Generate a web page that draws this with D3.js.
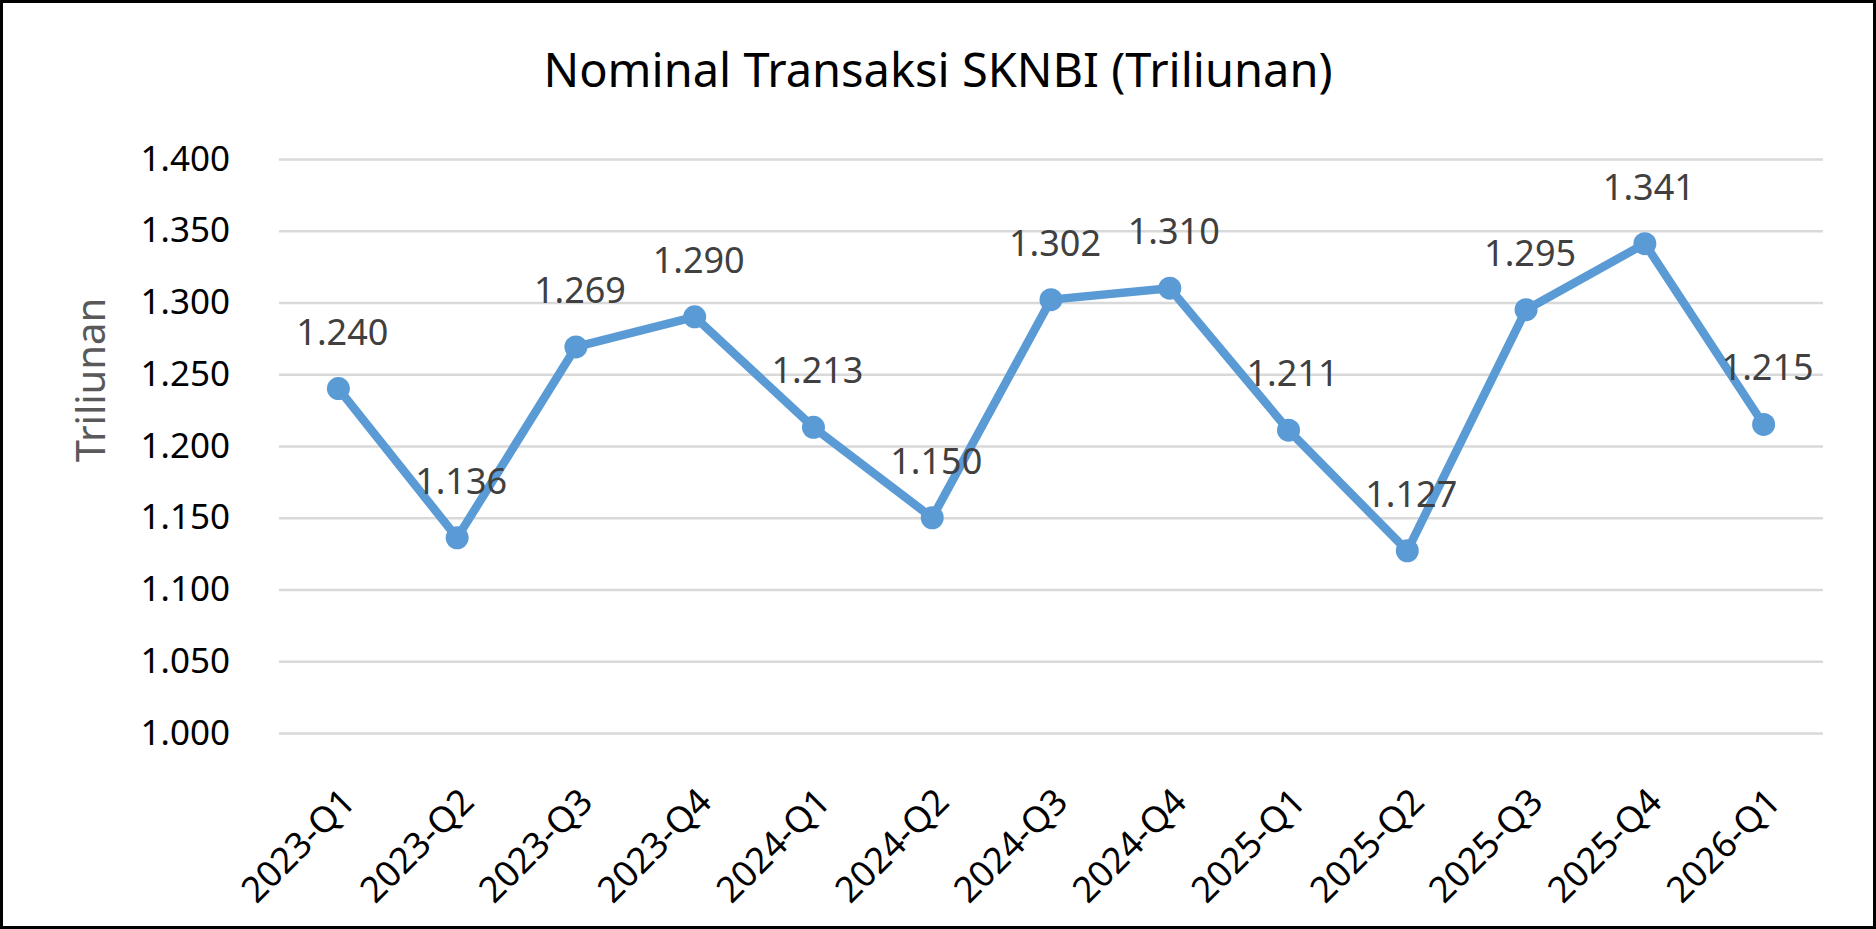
<!DOCTYPE html>
<html lang="id">
<head>
<meta charset="UTF-8">
<title>Nominal Transaksi SKNBI</title>
<script src="https://d3js.org/d3.v7.min.js"></script>
<style>
    body { margin: 0; background: #fff; }
    svg { display: block; font-family: "Noto Sans", sans-serif; }
    .grid line { stroke: #d9d9d9; stroke-width: 2.5; }
    .axis text { font-size: 35px; fill: #000; }
    .xaxis text { font-size: 36px; }
</style>
</head>
<body>
<script>
// data
const quarters = ["2023-Q1", "2023-Q2", "2023-Q3", "2023-Q4", "2024-Q1", "2024-Q2", "2024-Q3",
                  "2024-Q4", "2025-Q1", "2025-Q2", "2025-Q3", "2025-Q4", "2026-Q1"];
const nominal = [1240, 1136, 1269, 1290, 1213, 1150, 1302, 1310, 1211, 1127, 1295, 1341, 1215];
const yTicks = [1000, 1050, 1100, 1150, 1200, 1250, 1300, 1350, 1400];

const W = 1876, H = 929;
const plot = {left: 279, right: 1823, top: 159, bottom: 733};

// Indonesian number format: dot as thousands separator
const idFmt = d3.formatLocale({decimal: ",", thousands: ".", grouping: [3], currency: ["Rp", ""]}).format(",d");

const svg = d3.select("body").append("svg")
    .attr("width", W)
    .attr("height", H);

svg.append("rect")
    .attr("x", 1.5).attr("y", 1.5)
    .attr("width", W - 3).attr("height", H - 3)
    .attr("fill", "#fff")
    .attr("stroke", "#000")
    .attr("stroke-width", 3);

const x = d3.scaleBand().domain(quarters).range([plot.left, plot.right]).padding(0);
const y = d3.scaleLinear().domain([1000, 1400]).range([plot.bottom, plot.top]);

// gridlines
svg.append("g")
    .attr("class", "grid")
    .attr("transform", `translate(${plot.left},0)`)
    .call(d3.axisLeft(y).tickValues(yTicks).tickSize(-(plot.right - plot.left)).tickFormat(""))
    .call(g => g.select(".domain").remove());

// y axis labels
svg.append("g")
    .attr("class", "axis")
    .attr("transform", `translate(${plot.left},0)`)
    .call(d3.axisLeft(y).tickValues(yTicks).tickSize(0).tickPadding(49).tickFormat(idFmt))
    .attr("font-family", null)
    .attr("font-size", null)
    .call(g => g.select(".domain").remove());

// x axis labels, rotated
svg.append("g")
    .attr("class", "axis xaxis")
    .attr("transform", `translate(0,${plot.bottom})`)
    .call(d3.axisBottom(x).tickSize(0))
    .attr("font-family", null)
    .attr("font-size", null)
    .call(g => g.select(".domain").remove())
    .call(g => g.selectAll("text")
        .attr("text-anchor", "end")
        .attr("dy", "0.35em")
        .attr("y", 0)
        .attr("transform", "translate(10,62) rotate(-45)"));

// line
const line = d3.line()
    .x((d, i) => x(quarters[i]) + x.bandwidth() / 2)
    .y(d => y(d));

svg.append("path")
    .datum(nominal)
    .attr("fill", "none")
    .attr("stroke", "#5b9bd5")
    .attr("stroke-width", 8.5)
    .attr("stroke-linejoin", "round")
    .attr("d", line);

svg.selectAll(".dot")
    .data(nominal)
    .enter()
    .append("circle")
    .attr("class", "dot")
    .attr("cx", (d, i) => x(quarters[i]) + x.bandwidth() / 2)
    .attr("cy", d => y(d))
    .attr("r", 11.5)
    .attr("fill", "#5b9bd5");

// data labels
svg.selectAll(".lbl")
    .data(nominal)
    .enter()
    .append("text")
    .attr("class", "lbl")
    .attr("x", (d, i) => x(quarters[i]) + x.bandwidth() / 2 + 4)
    .attr("y", d => y(d) - 44)
    .attr("text-anchor", "middle")
    .attr("font-size", 36)
    .attr("fill", "#404040")
    .text(d => idFmt(d));

// axis title
svg.append("text")
    .attr("transform", "translate(89,380) rotate(-90)")
    .attr("text-anchor", "middle")
    .attr("dominant-baseline", "central")
    .attr("font-size", 40)
    .attr("fill", "#595959")
    .text("Triliunan");

// chart title
svg.append("text")
    .attr("x", W / 2)
    .attr("y", 87)
    .attr("text-anchor", "middle")
    .attr("font-size", 47)
    .attr("fill", "#000")
    .text("Nominal Transaksi SKNBI (Triliunan)");
</script>
</body>
</html>
